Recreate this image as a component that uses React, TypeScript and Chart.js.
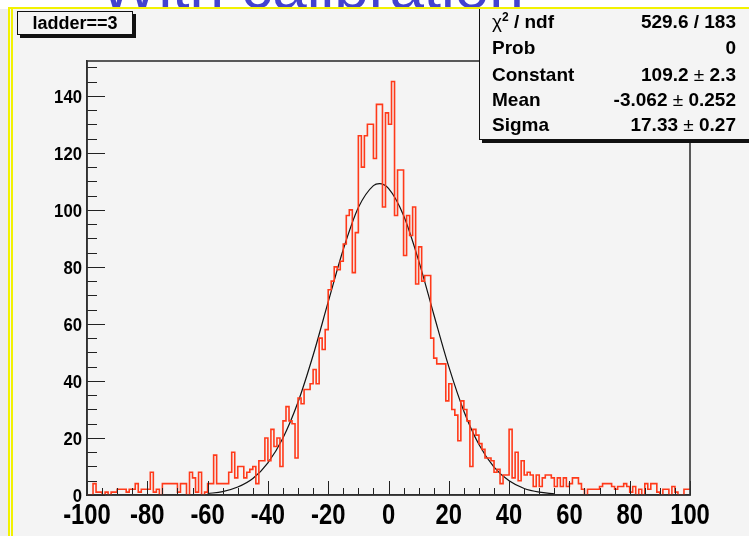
import React, { useEffect, useRef } from "react";
import { Chart, registerables } from "chart.js";

Chart.register(...registerables);

// Histogram: 200 bins of width 1 from -100 to 100 (counts per bin)
const binLow = -100;
const binWidth = 1;
const countsA = [
  0, 0, 4, 1, 1, 0, 1, 0, 1, 1,
  2, 2, 2, 1, 2, 2, 4, 1, 2, 2,
  2, 8, 1, 2, 0, 4, 4, 4, 4, 4,
  1, 4, 4, 0, 8, 6, 1, 8, 0, 1,
  4, 4, 14, 4, 4, 4, 4, 8, 15, 6,
];
const countsB = [
  10, 10, 6, 8, 9, 10, 4, 12, 12, 20,
  12, 23, 17, 20, 10, 26, 31, 26, 25, 13,
  34, 32, 37, 37, 39, 44, 39, 55, 51, 58,
  72, 75, 80, 79, 82, 88, 98, 100, 78, 92,
  126, 115, 126, 130, 130, 118, 137, 137, 101, 134,
];
const countsC = [
  130, 145, 98, 114, 114, 84, 98, 91, 101, 74,
  87, 75, 77, 77, 55, 48, 46, 46, 46, 33,
  39, 30, 28, 19, 33, 30, 26, 10, 23, 21,
  18, 16, 13, 13, 12, 8, 9, 4, 7, 7,
  23, 6, 15, 5, 12, 7, 8, 7, 3, 7,
];
const countsD = [
  3, 6, 7, 7, 6, 3, 6, 3, 6, 3,
  4, 6, 6, 4, 2, 0, 2, 2, 2, 2,
  3, 4, 4, 4, 3, 2, 3, 3, 4, 3,
  1, 3, 0, 2, 0, 4, 2, 4, 4, 1,
  0, 2, 2, 0, 3, 1, 0, 0, 2, 2,
];

// Gaussian fit curve
const fitX = [-60, -55, -50, -45, -40, -35, -30, -25, -20, -15, -10, -5, -3, 0, 5, 10, 15, 20, 25, 30, 35, 40, 45, 50, 55];
const fitY = [0.5, 1.2, 2.8, 5.8, 11.3, 20, 32.6, 49, 67.7, 86.1, 100.8, 108.5, 109.2, 107.5, 98, 82.2, 63.4, 45, 29.4, 17.7, 9.8, 5, 2.3, 1, 0.4];

// Axes
const xTicks = [-100, -80, -60, -40, -20, 0, 20, 40, 60, 80, 100];
const yTicks = [0, 20, 40, 60, 80, 100, 120, 140];
const xMin = -100;
const xMax = 100;
const yMax = 152.2;

// Stats box
const statsLabels = ["χ² / ndf", "Prob", "Constant", "Mean", "Sigma"];
const statsValues = ["529.6 / 183", "0", "109.2 ± 2.3", "-3.062 ± 0.252", "17.33 ± 0.27"];
const titleText = "ladder==3";
const slideTitle = "With calibration";

const textFont = "'Liberation Sans', Arial, Helvetica, sans-serif";

function condensedText(ctx: CanvasRenderingContext2D, text: string, x: number, y: number, align: CanvasTextAlign, sx: number) {
  ctx.save();
  ctx.translate(x, y);
  ctx.scale(sx, 1);
  ctx.textAlign = align;
  ctx.textBaseline = "alphabetic";
  ctx.fillText(text, 0, 0);
  ctx.restore();
}

const rootAxes = {
  id: "rootAxes",
  afterDatasetsDraw(chart: any) {
    const { ctx, chartArea: a, scales } = chart;
    const xs = scales.x;
    const ys = scales.y;
    ctx.save();
    ctx.strokeStyle = "#222";
    ctx.lineWidth = 1;
    ctx.beginPath();
    for (let v = xMin; v <= xMax; v += 5) {
      const px = Math.round(xs.getPixelForValue(v)) + 0.5;
      const len = v % 20 === 0 ? 14 : 7;
      ctx.moveTo(px, a.bottom);
      ctx.lineTo(px, a.bottom - len);
    }
    for (let v = 0; v <= 150; v += 5) {
      const py = Math.round(ys.getPixelForValue(v)) + 0.5;
      const len = v % 20 === 0 ? 18 : 10;
      ctx.moveTo(a.left, py);
      ctx.lineTo(a.left + len, py);
    }
    ctx.stroke();
    ctx.lineWidth = 1.6;
    ctx.strokeStyle = "#333";
    ctx.strokeRect(a.left, a.top, a.right - a.left, a.bottom - a.top);

    // tick labels (Helvetica-narrow-bold look)
    ctx.fillStyle = "#000";
    ctx.font = `bold 29px ${textFont}`;
    for (const t of xs.ticks) {
      const lab = t.label !== undefined && t.label !== "" ? String(t.label) : String(t.value);
      condensedText(ctx, lab, xs.getPixelForValue(t.value), a.bottom + 29, "center", 0.82);
    }
    ctx.font = `bold 19px ${textFont}`;
    for (const t of ys.ticks) {
      const lab = t.label !== undefined && t.label !== "" ? String(t.label) : String(t.value);
      condensedText(ctx, lab, a.left - 5, ys.getPixelForValue(t.value) + 6.8, "right", 0.88);
    }
    ctx.restore();
  },
};

function App() {
  const ref = useRef<HTMLCanvasElement | null>(null);

  useEffect(() => {
    document.body.style.margin = "0";
    const counts = [...countsA, ...countsB, ...countsC, ...countsD];
    const histData = counts.map((c, i) => ({ x: binLow + i * binWidth, y: c }));
    histData.push({ x: binLow + counts.length * binWidth, y: counts[counts.length - 1] });
    const fitData = fitX.map((x, i) => ({ x, y: fitY[i] }));

    const chart = new Chart(ref.current as HTMLCanvasElement, {
      type: "line",
      data: {
        datasets: [
          {
            data: histData,
            stepped: "before",
            borderColor: "#ff3a1a",
            borderWidth: 1.6,
            pointRadius: 0,
            fill: false,
          },
          {
            data: fitData,
            borderColor: "#111",
            borderWidth: 1.2,
            pointRadius: 0,
            cubicInterpolationMode: "monotone",
            fill: false,
          },
        ],
      } as any,
      options: {
        animation: false,
        responsive: false,
        devicePixelRatio: 1,
        events: [],
        layout: { padding: { left: 0, right: 59, top: 61, bottom: 0 } },
        plugins: { legend: { display: false }, tooltip: { enabled: false }, title: { display: false } },
        scales: {
          x: {
            type: "linear",
            min: xMin,
            max: xMax,
            grid: { display: false, drawTicks: false },
            border: { display: true, color: "#222", width: 1.6 },
            afterBuildTicks: (s: any) => {
              s.ticks = xTicks.map((v) => ({ value: v }));
            },
            afterFit: (s: any) => {
              s.height = 41;
            },
            ticks: {
              display: false,
              autoSkip: false,
              maxRotation: 0,
              minRotation: 0,
              callback: (v: any) => String(v),
            },
          },
          y: {
            type: "linear",
            min: 0,
            max: yMax,
            grid: { display: false, drawTicks: false },
            border: { display: true, color: "#222", width: 1.6 },
            afterBuildTicks: (s: any) => {
              s.ticks = yTicks.map((v) => ({ value: v }));
            },
            afterFit: (s: any) => {
              s.width = 87;
            },
            ticks: {
              display: false,
              autoSkip: false,
              callback: (v: any) => String(v),
            },
          },
        },
      } as any,
      plugins: [rootAxes],
    });
    return () => chart.destroy();
  }, []);

  const rowCenters = [22, 48, 74.5, 100, 124.5];

  return (
    <div style={{ position: "fixed", left: 0, top: 0, width: 749, height: 536, background: "#fff", overflow: "hidden" }}>
      <svg width={749} height={20} style={{ position: "absolute", left: 0, top: 0 }}>
        <text x={100} y={8} fill="#4343cf" style={{ font: `62px ${textFont}` }}>{slideTitle}</text>
      </svg>
      <div style={{ position: "absolute", left: 0, top: 9, width: 8, bottom: 0, background: "#eeeeee" }} />
      <div style={{ position: "absolute", left: 10, top: 9, right: 0, bottom: 0, background: "#f4f4f4" }} />
      <canvas ref={ref} width={749} height={536} style={{ position: "absolute", left: 0, top: 0, width: 749, height: 536 }} />
      {/* title box */}
      <div
        style={{
          position: "absolute",
          left: 17,
          top: 11,
          width: 114,
          height: 22,
          border: "1.5px solid #111",
          background: "#f4f4f4",
          boxShadow: "3px 3px 0 #111",
          font: `bold 18px ${textFont}`,
          lineHeight: "22px",
          textAlign: "center",
          color: "#000",
        }}
      >
        {titleText}
      </div>
      {/* stats box */}
      <div
        style={{
          position: "absolute",
          left: 479,
          top: 8,
          width: 300,
          height: 130,
          border: "1.5px solid #111",
          background: "#f4f4f4",
          boxShadow: "3px 3px 0 #111",
        }}
      />
      {statsLabels.map((lab, i) => (
        <div
          key={"l" + i}
          style={{
            position: "absolute",
            left: 492,
            top: rowCenters[i] - 11,
            height: 22,
            lineHeight: "22px",
            font: `bold 19px ${textFont}`,
            color: "#000",
            whiteSpace: "pre",
          }}
        >
          {i === 0 ? (
            <span>
              <span style={{ fontWeight: "normal" }}>χ</span>
              <span style={{ fontSize: 12, position: "relative", top: -7 }}>2</span>
              {" / ndf"}
            </span>
          ) : (
            lab
          )}
        </div>
      ))}
      {statsValues.map((val, i) => {
        const parts = val.split("±");
        return (
          <div
            key={"v" + i}
            style={{
              position: "absolute",
              right: 749 - 736,
              top: rowCenters[i] - 11,
              height: 22,
              lineHeight: "22px",
              font: `bold 19px ${textFont}`,
              color: "#000",
              whiteSpace: "pre",
              textAlign: "right",
            }}
          >
            {parts.length === 2 ? (
              <span>
                {parts[0]}
                <span style={{ fontWeight: "normal" }}>±</span>
                {parts[1]}
              </span>
            ) : (
              val
            )}
          </div>
        );
      })}
      {/* yellow slide frame lines */}
      <div style={{ position: "absolute", left: 8, top: 7, right: 0, height: 2, background: "#f2f200" }} />
      <div style={{ position: "absolute", left: 8, top: 7, width: 2, bottom: 0, background: "#f2f200" }} />
      <div style={{ position: "absolute", left: 11, top: 9, width: 2, bottom: 0, background: "#f2f200" }} />
    </div>
  );
}

export default App;
